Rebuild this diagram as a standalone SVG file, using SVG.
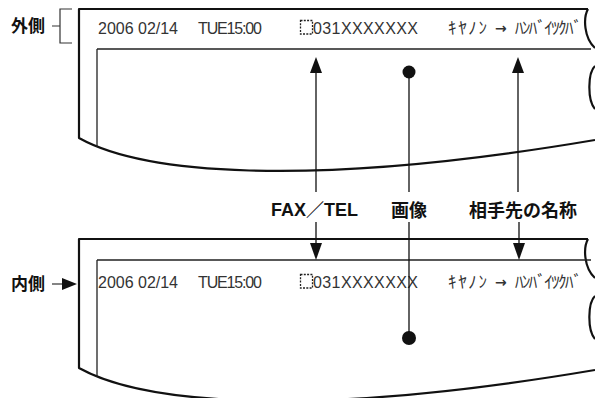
<svg xmlns="http://www.w3.org/2000/svg" width="595" height="398" viewBox="0 0 595 398">
<style>
.frame{fill:none;stroke:#111;stroke-width:2.2;stroke-linejoin:round}
.inner{fill:none;stroke:#222;stroke-width:1.3}
.conn{fill:none;stroke:#111;stroke-width:1.3}
.head{fill:#111}
.strip{font-family:"Liberation Sans",Arial,sans-serif;font-size:16px;fill:#333}
.kana{font-family:"Noto Sans CJK JP",sans-serif;font-size:17px;fill:#333}
.arr{font-family:"DejaVu Sans",sans-serif;font-size:14px;font-weight:bold;fill:#333}
.lbl{font-family:"Liberation Sans","Noto Sans CJK JP",sans-serif;font-size:18px;font-weight:bold;fill:#111}
.side{font-family:"Noto Sans CJK JP",sans-serif;font-size:17px;font-weight:bold;fill:#111}
.thin{fill:none;stroke:#333;stroke-width:1.2}
.dot{fill:none;stroke:#222;stroke-width:1.3;stroke-dasharray:2 1.3}
</style>
<defs>
<g id="paper">
<path class="frame" d="M595,140 C300,190 140,172 79,138 L79,9 L588,9"/>
<path class="frame" d="M588,9 C583,18 584,38 595,48"/>
<path class="frame" d="M595,66 C588,72 587,100 595,109"/>
</g>
</defs>
<g id="outer-panel">
<use href="#paper"/>
<path class="inner" d="M97,49 H591 M97,49 V147"/>
<text class="strip" x="98" y="33.5" textLength="80">2006 02/14</text>
<text class="strip" x="198" y="33.5" textLength="64">TUE15:00</text>
<rect class="dot" x="300.5" y="20.5" width="12" height="13.5"/>
<text class="strip" x="313" y="33.5" textLength="105">031XXXXXXX</text>
<text class="kana" x="448" y="34" textLength="39">ｷﾔﾉﾝ</text>
<text class="arr" x="495" y="33" textLength="12">→</text>
<text class="kana" x="515" y="34" textLength="67">ﾊﾝﾊﾞｲﾂｸﾊﾞ</text>
</g>
<g id="inner-panel">
<use href="#paper" y="230"/>
<path class="inner" d="M97,260 H591 M97,260 V377"/>
<text class="strip" x="98" y="287.5" textLength="80">2006 02/14</text>
<text class="strip" x="198" y="287.5" textLength="64">TUE15:00</text>
<rect class="dot" x="300.5" y="274.5" width="12" height="13.5"/>
<text class="strip" x="313" y="287.5" textLength="105">031XXXXXXX</text>
<text class="kana" x="448" y="288" textLength="39">ｷﾔﾉﾝ</text>
<text class="arr" x="495" y="287" textLength="12">→</text>
<text class="kana" x="515" y="288" textLength="67">ﾊﾝﾊﾞｲﾂｸﾊﾞ</text>
</g>
<g id="label-outer">
<text class="side" x="11" y="32">外側</text>
<path class="thin" d="M52,26 H60 M72,9 H60 V43 H72"/>
</g>
<g id="label-inner">
<text class="side" x="11" y="290">内側</text>
<path class="thin" d="M52,284 H64"/>
<polygon class="head" points="62,278 77,284 62,290"/>
</g>
<g id="label-fax">
<text class="lbl" x="314.5" y="216" text-anchor="middle">FAX／TEL</text>
</g>
<g id="label-image">
<text class="lbl" x="409" y="217" text-anchor="middle">画像</text>
</g>
<g id="label-name">
<text class="lbl" x="523" y="217" text-anchor="middle">相手先の名称</text>
</g>
<g id="connectors">
<path class="conn" d="M316,72 V192 M518,72 V192 M409,72 V192"/>
<polygon class="head" points="316,57 310,73 322,73"/>
<polygon class="head" points="518,57 512,73 524,73"/>
<circle class="head" cx="409" cy="72" r="6.5"/>
<path class="conn" d="M316,222 V244 M519,222 V244 M409,222 V338"/>
<polygon class="head" points="310,243 322,243 316,260"/>
<polygon class="head" points="513,243 525,243 519,260"/>
<circle class="head" cx="409" cy="338" r="7"/>
</g>
</svg>
